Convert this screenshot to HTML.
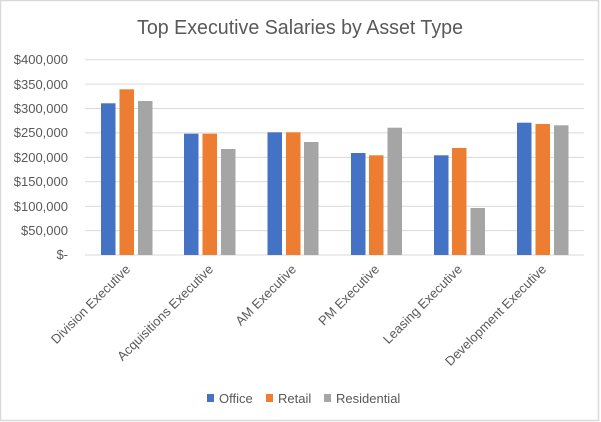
<!DOCTYPE html>
<html><head><meta charset="utf-8"><style>
html,body{margin:0;padding:0;background:#fff;}
svg{display:block;}
text{font-family:"Liberation Sans",sans-serif;fill:#595959;}
</style></head><body>
<svg width="601" height="422" viewBox="0 0 601 422" xmlns="http://www.w3.org/2000/svg">
<rect x="0.5" y="0.5" width="598" height="420" fill="#fff" stroke="#d9d9d9" stroke-width="1.5"/>
<text x="300" y="34" font-size="20" text-anchor="middle" textLength="326" lengthAdjust="spacingAndGlyphs">Top Executive Salaries by Asset Type</text>
<g stroke="#d9d9d9" stroke-width="1">
<line x1="85" x2="584" y1="59.7" y2="59.7"/>
<line x1="85" x2="584" y1="84.1" y2="84.1"/>
<line x1="85" x2="584" y1="108.5" y2="108.5"/>
<line x1="85" x2="584" y1="132.9" y2="132.9"/>
<line x1="85" x2="584" y1="157.4" y2="157.4"/>
<line x1="85" x2="584" y1="181.8" y2="181.8"/>
<line x1="85" x2="584" y1="206.2" y2="206.2"/>
<line x1="85" x2="584" y1="230.6" y2="230.6"/>
<line x1="85" x2="584" y1="255" y2="255"/>
</g>
<g font-size="13" text-anchor="end">
<text x="68" y="64">$400,000</text>
<text x="68" y="89">$350,000</text>
<text x="68" y="113">$300,000</text>
<text x="68" y="137">$250,000</text>
<text x="68" y="162">$200,000</text>
<text x="68" y="186">$150,000</text>
<text x="68" y="211">$100,000</text>
<text x="68" y="235">$50,000</text>
<text x="68" y="259">$-</text>
</g>
<g>
<rect x="101" y="103.3" width="14.5" height="151.7" fill="#4472c4"/>
<rect x="119.5" y="89.3" width="14.5" height="165.7" fill="#ed7d31"/>
<rect x="138" y="101" width="14.5" height="154" fill="#a5a5a5"/>
<rect x="184" y="133.7" width="14.5" height="121.3" fill="#4472c4"/>
<rect x="202.5" y="133.7" width="14.5" height="121.3" fill="#ed7d31"/>
<rect x="221" y="149" width="14.5" height="106" fill="#a5a5a5"/>
<rect x="267.5" y="132.3" width="14.5" height="122.7" fill="#4472c4"/>
<rect x="286" y="132.3" width="14.5" height="122.7" fill="#ed7d31"/>
<rect x="304" y="142" width="14.5" height="113" fill="#a5a5a5"/>
<rect x="351" y="153" width="14.5" height="102" fill="#4472c4"/>
<rect x="369" y="155.3" width="14.5" height="99.7" fill="#ed7d31"/>
<rect x="387.5" y="127.7" width="14.5" height="127.3" fill="#a5a5a5"/>
<rect x="434" y="155.3" width="14.5" height="99.7" fill="#4472c4"/>
<rect x="452" y="148" width="14.5" height="107" fill="#ed7d31"/>
<rect x="470.5" y="208" width="14.5" height="47" fill="#a5a5a5"/>
<rect x="517" y="122.7" width="14.5" height="132.3" fill="#4472c4"/>
<rect x="535.5" y="124" width="14.5" height="131" fill="#ed7d31"/>
<rect x="554" y="125.3" width="14.5" height="129.7" fill="#a5a5a5"/>
</g>
<g font-size="13" text-anchor="end">
<text transform="translate(131,270) rotate(-45)">Division Executive</text>
<text transform="translate(214,270) rotate(-45)">Acquisitions Executive</text>
<text transform="translate(297,270) rotate(-45)">AM Executive</text>
<text transform="translate(380,270) rotate(-45)">PM Executive</text>
<text transform="translate(463,270) rotate(-45)">Leasing Executive</text>
<text transform="translate(547,270) rotate(-45)">Development Executive</text>
</g>
<g font-size="13">
<rect x="207" y="394" width="7" height="8" fill="#4472c4"/>
<text x="219" y="403">Office</text>
<rect x="266" y="394" width="7" height="8" fill="#ed7d31"/>
<text x="278" y="403">Retail</text>
<rect x="324" y="394" width="7" height="8" fill="#a5a5a5"/>
<text x="336" y="403">Residential</text>
</g>
</svg>
</body></html>
